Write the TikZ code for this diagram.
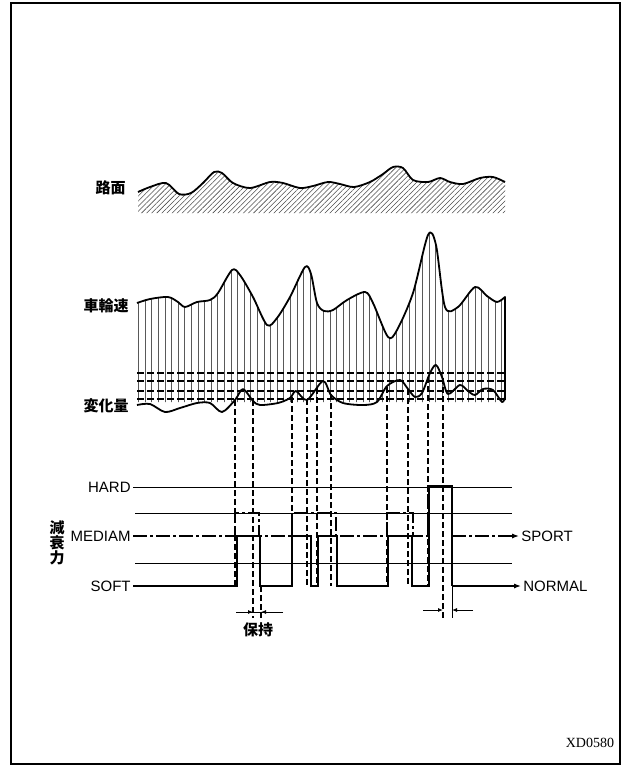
\documentclass[tikz,border=0pt]{standalone}
\usepackage{fontspec}
\setmainfont{Liberation Sans}
\newfontfamily\jpfont{Noto Sans CJK JP}
\newfontfamily\idfont{Liberation Serif}
\usepackage{tikz}
\usetikzlibrary{arrows.meta, positioning, patterns.meta}
\tikzset{
  boxline/.style={line width=0.9pt},
  wave/.style={line width=0.9pt, line join=round},
  guide/.style={line width=0.45pt},
  thresh/.style={line width=0.55pt, dash pattern=on 3.5pt off 1.5pt},
  drop/.style={line width=0.55pt, dash pattern=on 3pt off 1.5pt},
  normsig/.style={line width=1pt},
  sportsig/.style={line width=0.9pt, dash pattern=on 7pt off 1.5pt on 1.5pt off 1.5pt},
  lvl/.style={font=\fontsize{7.5}{9}\selectfont, inner sep=1pt},
  jlbl/.style={font=\fontsize{7.5}{7.5}\selectfont\jpfont\bfseries, inner sep=1pt},
  arrow/.style={-{Latex[length=3.5pt, width=2.6pt]}},
  tick/.style={-{Latex[length=2.5pt, width=2pt]}},
  hatch/.style={pattern={Lines[angle=45, distance=1.8pt, line width=0.28pt]}, pattern color=black!70},
  vhatch/.style={pattern={Lines[angle=90, distance=3.3pt, line width=0.4pt]}, pattern color=black!65},
}
\newcommand\roadline{plot[smooth] coordinates {(138,192) (150,187) (166,183) (179,194)
  (191,193) (203,183) (214,172) (222,173) (233,183) (250,188) (270,182) (283,183)
  (300,188) (313,186) (328,182) (340,184) (354,187) (370,182) (383,174) (393,167)
  (403,168) (413,180) (428,182) (440,178) (450,182) (463,184) (480,178) (493,177) (505,182)}}
\newcommand\wheelline{plot[smooth] coordinates {(137,303) (150,299) (168,297) (178,302)
  (185,307) (197,302) (210,300) (218,293) (232,270) (240,275) (253,297) (267,325)
  (277,318) (290,297) (305,267) (311,274) (317,303) (324,311) (333,310) (347,300)
  (365,292) (373,303) (388,337) (397,330) (413,293) (428,235) (436,245) (445,307)
  (458,307) (475,287) (487,296) (497,302) (505,297)}}
\newcommand\changeline{plot[smooth] coordinates {(137,405) (150,404) (165,412) (180,408)
  (197,403) (210,403) (222,412) (235,400) (243,389) (253,401) (260,405) (278,403)
  (290,398) (296,391) (307,400) (323,381) (331,395) (343,403) (363,405) (377,402)
  (387,386) (400,380) (408,389) (415,397) (422,393) (430,373) (436,365) (442,377)
  (448,394) (460,385) (468,391) (475,395) (483,389) (493,390) (502,402) (505,397)}}

\begin{document}
\begin{tikzpicture}[x=0.5pt, y=-0.5pt]
  \useasboundingbox (0,0) rectangle (629,767);
  \draw[boxline] (11,3) rectangle (620,764);

  % Road surface
  \fill[hatch] \roadline -- (505,213) -- (138,213) -- cycle;
  \draw[wave] \roadline;
  \node[jlbl, anchor=east] (road) at (128,188) {路面};

  % Wheel speed and its change
  \fill[vhatch] \wheelline -- (505,402) -- (137,402) -- cycle;
  \foreach \y in {373,381,391,399}
    \draw[thresh] (137,\y) -- (505,\y);
  \draw[wave] \wheelline -- (505,400);
  \draw[wave] \changeline;
  \node[jlbl, anchor=east] (wheel) at (131,306) {車輪速};
  \node[jlbl, anchor=east] (delta) at (131,406) {変化量};

  % Drop lines
  \foreach \x/\y in {235/400, 292/397, 307/399, 317/388, 331/394, 387/387, 408/389, 428/377}
    \draw[drop] (\x,\y) -- (\x,586);
  \foreach \x/\y in {253/400, 443/378}
    \draw[drop] (\x,\y) -- (\x,618);

  % Damping levels
  \coordinate (rgt) at (512,0);
  \node[lvl, anchor=east] (hard)   at (133,487) {HARD};
  \node[lvl, anchor=east] (mediam) at (133,536) {MEDIAM};
  \node[lvl, anchor=east] (soft)   at (133,586) {SOFT};
  \node[jlbl, align=center] (force) at (57,543) {減\\衰\\力};
  \draw[guide] (hard) -- (hard -| rgt);
  \draw[guide] (135,513) -- (512,513);
  \draw[guide] (135,563) -- (512,563);

  % Signals
  \draw[sportsig] (mediam) -- (235,536) -- (235,513) -- (259,513) -- (259,536)
    -- (292,536) -- (292,513) -- (336,513) -- (336,536) -- (387,536) -- (387,513)
    -- (413,513) -- (413,536) -- (428,536) -- (428,486) -- (452,486) -- (452,536);
  \draw[normsig] (soft) -- (237,586) -- (237,536) -- (260,536) -- (260,586)
    -- (292,586) -- (292,536) -- (311,536) -- (311,586) -- (318,586) -- (318,536)
    -- (337,536) -- (337,586) -- (388,586) -- (388,536) -- (412,536) -- (412,586)
    -- (429,586) -- (429,486) -- (452,486) -- (452,586);
  \node[lvl, anchor=west] (sport)  at (519,536) {SPORT};
  \node[lvl, anchor=west] (normal) at (521,586) {NORMAL};
  \draw[sportsig, arrow] (452,536) -- (sport);
  \draw[normsig, arrow] (452,586) -- (normal);

  % Hold time
  \draw[guide] (236,612) -- (283,612);
  \draw[guide, tick] (236,612) -- (253,612);
  \draw[guide, tick] (283,612) -- (261,612);
  \draw[drop] (261,586) -- (261,618);
  \node[jlbl] (hold) at (258,630) {保持};
  \draw[guide, tick] (423,610) -- (443,610);
  \draw[guide, tick] (473,610) -- (452,610);
  \draw[guide] (452,586) -- (452,618);

  \node[font=\idfont\fontsize{7}{8}\selectfont] (fig) at (590,743) {XD0580};

\end{tikzpicture}
\end{document}
